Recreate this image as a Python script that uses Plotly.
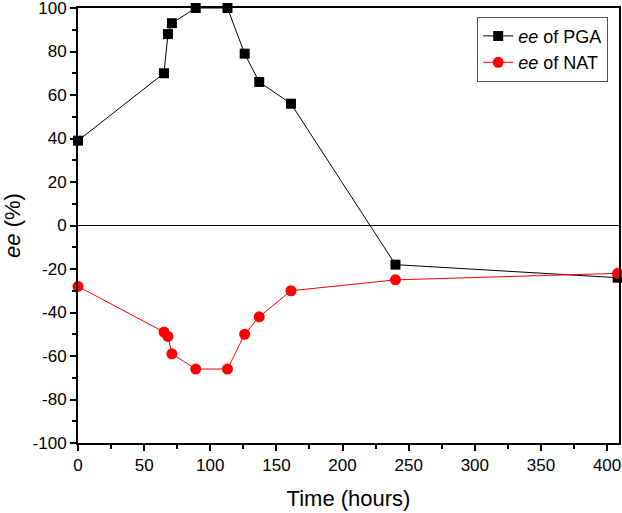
import plotly.graph_objects as go

time_pga = [0, 65, 68, 71, 89, 113, 126, 137, 161, 240, 408]
ee_pga = [39, 70, 88, 93, 100, 100, 79, 66, 56, -18, -24]
time_nat = [0, 65, 68, 71, 89, 113, 126, 137, 161, 240, 408]
ee_nat = [-28, -49, -51, -59, -66, -66, -50, -42, -30, -25, -22]
x_ticks = [0, 50, 100, 150, 200, 250, 300, 350, 400]
y_ticks = [-100, -80, -60, -40, -20, 0, 20, 40, 60, 80, 100]

font = "Liberation Sans, Arial, sans-serif"

fig = go.Figure()
fig.add_trace(go.Scatter(x=time_pga, y=ee_pga, mode="lines+markers", name="<i>ee</i> of PGA",
                         line=dict(color="black", width=1),
                         marker=dict(symbol="square", size=10, color="black"), cliponaxis=False))
fig.add_trace(go.Scatter(x=time_nat, y=ee_nat, mode="lines+markers", name="<i>ee</i> of NAT",
                         line=dict(color="#ff0000", width=1),
                         marker=dict(symbol="circle", size=11, color="#ff0000"), cliponaxis=False))

axis_common = dict(showline=True, linecolor="black", linewidth=2, mirror=True, showgrid=False,
                   ticks="outside", ticklen=6, tickwidth=2, tickcolor="black", automargin=False,
                   ticklabeloverflow="allow",
                   tickfont=dict(family=font, size=17, color="black"))

fig.update_layout(
    width=622, height=513,
    margin=dict(l=78, r=3, t=8, b=70),
    plot_bgcolor="white", paper_bgcolor="white",
    font=dict(family=font, color="black"),
    showlegend=True,
    legend=dict(x=0.98, y=0.98, xanchor="right", yanchor="top",
                bordercolor="#555", borderwidth=1, bgcolor="white",
                font=dict(family=font, size=18), tracegroupgap=0),
    xaxis=dict(range=[0, 409], tickvals=x_ticks, ticktext=[str(v) for v in x_ticks],
               minor=dict(dtick=25, tick0=0, ticks="outside", ticklen=4, tickwidth=2, tickcolor="black"),
               title=dict(text="Time (hours)", font=dict(family=font, size=22), standoff=16),
               zeroline=False, **axis_common),
    yaxis=dict(range=[-100, 100], tickvals=y_ticks, ticktext=[str(v) for v in y_ticks],
               minor=dict(dtick=10, ticks="outside", ticklen=4, tickwidth=2, tickcolor="black"),
               title=dict(text="<i>ee</i> (%)", font=dict(family=font, size=22), standoff=6),
               zeroline=True, zerolinecolor="black", zerolinewidth=1, **axis_common),
)

fig.write_html("out.html", config={"displayModeBar": False},
               post_script="document.body.style.margin='0';document.body.style.overflow='hidden';")
